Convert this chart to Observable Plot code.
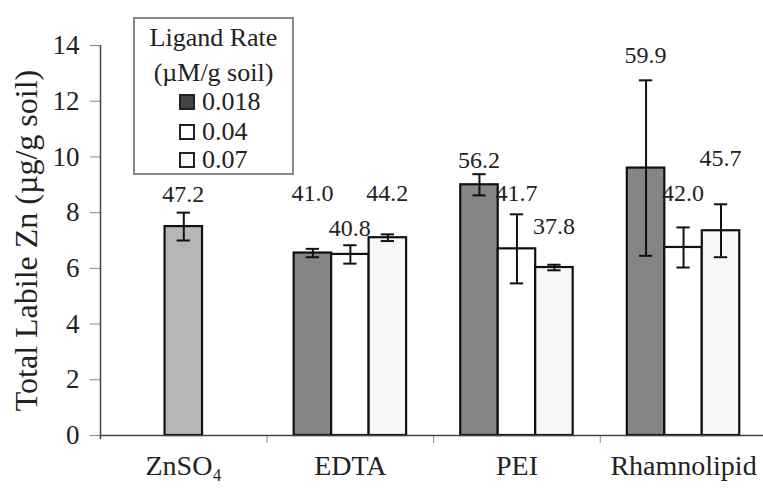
<!DOCTYPE html>
<html>
<head>
<meta charset="utf-8">
<script src="https://cdn.jsdelivr.net/npm/d3@7"></script>
<script src="https://cdn.jsdelivr.net/npm/@observablehq/plot@0.6"></script>
</head>
<body style="margin:0;background:#fff;font-family:serif">
<div id="wrap" style="position:relative;width:763px;height:497px;overflow:hidden;font-family:serif"></div>
<script>
// ---- data ----
const categories = ["ZnSO\u2084", "EDTA", "PEI", "Rhamnolipid"];
const rates = ["0.018", "0.04", "0.07"];
const legendTitle = ["Ligand Rate", "(\u00b5M/g soil)"];
const yTicks = [0, 2, 4, 6, 8, 10, 12, 14];
const yTitle = "Total Labile Zn (\u00b5g/g soil)";

const barCategory = ["ZnSO\u2084", "EDTA", "EDTA", "EDTA", "PEI", "PEI", "PEI", "Rhamnolipid", "Rhamnolipid", "Rhamnolipid"];
const barRate     = ["none", "0.018", "0.04", "0.07", "0.018", "0.04", "0.07", "0.018", "0.04", "0.07"];
const meanValues  = [7.5, 6.55, 6.5, 7.1, 9.0, 6.7, 6.03, 9.6, 6.75, 7.35];
const errorValues = [0.5, 0.15, 0.33, 0.12, 0.38, 1.24, 0.1, 3.15, 0.72, 0.95];
const labelTexts  = ["47.2", "41.0", "40.8", "44.2", "56.2", "41.7", "37.8", "59.9", "42.0", "45.7"];
const labelHeights = [8.63, 8.69, 7.43, 8.67, 9.87, 8.67, 7.48, 13.64, 8.67, 9.94];

// ---- styling ----
const fillKeys = ["none", "0.018", "0.04", "0.07"];
const fillColors = ["#b6b6b6", "#858585", "#ffffff", "#f7f7f7"];
const slotOffset = {"none": 0, "0.018": -1, "0.04": 0, "0.07": 1};
const barW = 0.225;   // bar width in category units
const capW = 0.04;    // half cap width in category units
const labelDx = [0, -2, -3, 1, -3, 5, 4, -1, 4, 1];
const FONT = "serif";

const bars = meanValues.map((m, i) => {
  const c = categories.indexOf(barCategory[i]) + slotOffset[barRate[i]] * barW;
  return {
    category: barCategory[i], rate: barRate[i], mean: m, err: errorValues[i],
    center: c, left: c - barW / 2, right: c + barW / 2,
    label: labelTexts[i], labelY: labelHeights[i], dx: labelDx[i]
  };
});

const chart = Plot.plot({
  width: 763, height: 497,
  marginLeft: 100, marginRight: 0, marginTop: 45, marginBottom: 62,
  x: {domain: [-0.5, 3.48], axis: null},
  y: {domain: [0, 14], axis: null},
  color: {domain: fillKeys, range: fillColors},
  marks: [
    Plot.axisY({ticks: yTicks, tickSize: 10, tickPadding: 11, fontSize: 27, fontFamily: FONT, stroke: "#888", fill: "#222", label: null}),
    Plot.axisX({ticks: [0.5, 1.5, 2.5], tickSize: 8, stroke: "#888", tickFormat: () => "", label: null}),
    Plot.axisX({ticks: [0, 1, 2, 3], tickSize: 0, tickPadding: 20, fontSize: 28, fontFamily: FONT, fill: "#222", tickFormat: i => categories[i], label: null}),
    Plot.text([yTitle], {frameAnchor: "left", textAnchor: "middle", rotate: -90, dx: -74, fontSize: 32, fontFamily: FONT, fill: "#222"}),
    Plot.rectY(bars, {x1: "left", x2: "right", y: "mean", fill: "rate", stroke: "#111", strokeWidth: 2.2}),
    Plot.ruleX(bars, {x: "center", y1: d => d.mean - d.err, y2: d => d.mean + d.err, stroke: "#111", strokeWidth: 2}),
    Plot.ruleY(bars, {y: d => d.mean + d.err, x1: d => d.center - capW, x2: d => d.center + capW, stroke: "#111", strokeWidth: 2}),
    Plot.ruleY(bars, {y: d => d.mean - d.err, x1: d => d.center - capW, x2: d => d.center + capW, stroke: "#111", strokeWidth: 2}),
    Plot.text(bars, {x: "center", y: "labelY", dx: "dx", text: "label", fontSize: 24, fontFamily: FONT, fill: "#222"}),
    Plot.ruleY([0], {stroke: "#444", strokeWidth: 1.5}),
    Plot.ruleX([-0.5], {y1: -0.15, y2: 14, stroke: "#444", strokeWidth: 1.5})
  ]
});
chart.setAttribute("font-family", FONT);
chart.style.fontFamily = FONT;
chart.style.overflow = "visible";

const wrap = document.getElementById("wrap");
wrap.appendChild(chart);

// legend (HTML, placed over the plot area as in the reference)
const legend = document.createElement("div");
Object.assign(legend.style, {
  position: "absolute", left: "133px", top: "17px", width: "157px", height: "154px",
  border: "2px solid #888", background: "#fff", fontSize: "26px", color: "#222", fontFamily: FONT
});
const tops = [4, 39, 68, 98, 126];
function row(top) {
  const r = document.createElement("div");
  Object.assign(r.style, {position: "absolute", left: "0", width: "100%", height: "30px",
    lineHeight: "30px", whiteSpace: "nowrap", top: top + "px", fontFamily: FONT});
  return r;
}
legendTitle.forEach((t, i) => {
  const r = row(tops[i]);
  r.style.textAlign = "center";
  r.textContent = t;
  legend.appendChild(r);
});
const swatchFill = {"0.018": "#444", "0.04": "#fff", "0.07": "#fafafa"};
rates.forEach((rate, i) => {
  const r = row(tops[i + 2]);
  r.style.paddingLeft = "44px";
  r.style.boxSizing = "border-box";
  const sw = document.createElement("span");
  Object.assign(sw.style, {display: "inline-block", width: "12px", height: "12px",
    border: "2px solid #222", marginRight: "7px", verticalAlign: "0px", background: swatchFill[rate]});
  r.appendChild(sw);
  r.appendChild(document.createTextNode(rate));
  legend.appendChild(r);
});
wrap.appendChild(legend);
</script>
</body>
</html>
